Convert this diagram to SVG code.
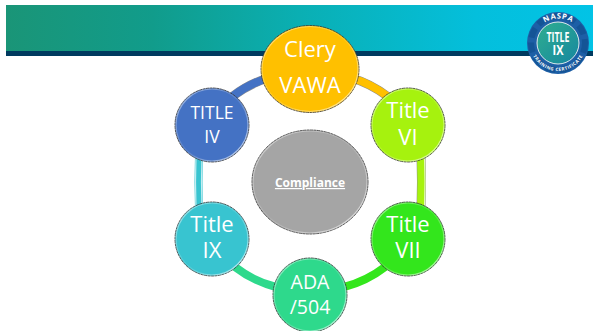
<svg xmlns="http://www.w3.org/2000/svg" xmlns:xlink="http://www.w3.org/1999/xlink" width="593" height="331" viewBox="0 0 593 331">
<defs>
<linearGradient id="hdr" x1="0" x2="1" y1="0" y2="0"><stop offset="0" stop-color="#1a9577"/><stop offset="0.25" stop-color="#119c8b"/><stop offset="0.5" stop-color="#0aafb3"/><stop offset="0.8" stop-color="#04bfdc"/><stop offset="1" stop-color="#02c3e6"/></linearGradient>
<linearGradient id="core" x1="0" x2="1" y1="0" y2="1"><stop offset="0" stop-color="#2fae8f"/><stop offset="1" stop-color="#1687a0"/></linearGradient>
<linearGradient id="bev" x1="0" x2="1" y1="0" y2="1"><stop offset="0" stop-color="#fff" stop-opacity=".55"/><stop offset=".5" stop-color="#fff" stop-opacity=".1"/><stop offset="1" stop-color="#fff" stop-opacity=".75"/></linearGradient>
<path id="logoTop" d="M534 43A24.500 24.500 0 0 1 583 43"/>
<path id="logoBot" d="M530 43A28 28 0 0 0 586 43"/>
</defs>
<style>
.edge{stroke:#333;stroke-width:.8;stroke-dasharray:3 .5}
.bevel{fill:none;stroke:url(#bev);stroke-width:1.200}
.t{font-family:"Open Sans","Noto Sans",sans-serif;fill:#fff;text-anchor:middle}
.big{font-size:22px}
.arc{fill:none;stroke-width:8}
.under{fill:none;stroke:#8f8f8f;stroke-width:9}
.sheen{fill:none;stroke:#fff;stroke-opacity:.7;stroke-width:1.200}
</style>
<rect x="6" y="5" width="587" height="46" fill="url(#hdr)"/>
<rect x="6" y="51" width="587" height="5" fill="#003a5f"/>
<g id="connectors">
<path class="under" d="M233 96A113 113 0 0 1 268 78"/><path class="arc" stroke="#4472c4" d="M233 96A113 113 0 0 1 268 78"/>
<path class="under" d="M352 78A113 113 0 0 1 387 96"/><path class="arc" stroke="#ffc000" d="M352 78A113 113 0 0 1 387 96"/>
<path class="under" d="M421 155Q422 182 421 209"/><path class="arc" stroke="#a6f20e" stroke-width="10" d="M421 155Q422 182 421 209"/><path class="sheen" d="M424.500 155Q425.500 182 424.500 209"/>
<path class="arc" stroke="#33e61c" d="M385 267A113 113 0 0 1 344 287"/>
<path class="arc" stroke="#2ed98c" d="M276 287A113 113 0 0 1 235 267"/>
<path class="arc" stroke="#38c4d0" stroke-width="10" d="M199 209Q198 182 199 155"/><path class="sheen" d="M196 209Q195 182 196 155"/><path class="sheen" d="M202 209Q201 182 202 155"/>
</g>
<g id="node-compliance">
<ellipse cx="310" cy="182" rx="58" ry="52" fill="#a5a5a5" class="edge"/>
<ellipse cx="310" cy="182" rx="57" ry="51" class="bevel"/>
<text x="310" y="187" class="t" font-size="12" font-weight="700" text-decoration="underline">Compliance</text>
</g>
<g id="node-clery">
<ellipse cx="310" cy="69" rx="49" ry="43.500" fill="#ffc000" class="edge"/>
<ellipse cx="310" cy="69" rx="48" ry="42.500" class="bevel"/>
<text x="310" y="57" class="t big">Clery</text>
<text x="310" y="93" class="t big">VAWA</text>
</g>
<g id="node-title-vi">
<circle cx="408" cy="125" r="37" fill="#a6f20e" class="edge"/>
<circle cx="408" cy="125" r="36" class="bevel"/>
<text x="408" y="118" class="t big">Title</text>
<text x="408" y="145" class="t big">VI</text>
</g>
<g id="node-title-vii">
<circle cx="408" cy="239" r="37" fill="#33e61c" class="edge"/>
<circle cx="408" cy="239" r="36" class="bevel"/>
<text x="408" y="232" class="t big">Title</text>
<text x="408" y="258" class="t big">VII</text>
</g>
<g id="node-ada">
<circle cx="310" cy="295" r="37" fill="#2ed98c" class="edge"/>
<circle cx="310" cy="295" r="36" class="bevel"/>
<text x="310" y="289" class="t" font-size="19.500">ADA</text>
<text x="310" y="314" class="t" font-size="19.500">/504</text>
</g>
<g id="node-title-ix">
<circle cx="212" cy="239" r="37" fill="#38c4d0" class="edge"/>
<circle cx="212" cy="239" r="36" class="bevel"/>
<text x="212" y="232" class="t big">Title</text>
<text x="212" y="258" class="t big">IX</text>
</g>
<g id="node-title-iv">
<circle cx="212" cy="125" r="37" fill="#4472c4" class="edge"/>
<circle cx="212" cy="125" r="36" class="bevel"/>
<text x="212" y="119" class="t" font-size="17.500">TITLE</text>
<text x="212" y="143" class="t" font-size="17.500">IV</text>
</g>
<g id="logo">
<circle cx="558" cy="43" r="31" fill="#1d5fa6"/>
<circle cx="558" cy="43" r="27" fill="none" stroke="#0f4c8c" stroke-width="6" stroke-dasharray="10 5" stroke-opacity=".6"/>
<circle cx="558" cy="43" r="21" fill="url(#core)" stroke="#dfe9ee" stroke-width="1"/>
<text class="t" font-size="7.500" font-weight="700" letter-spacing=".8"><textPath xlink:href="#logoTop" startOffset="50%">NASPA</textPath></text>
<text class="t" font-size="4.500" font-weight="700" letter-spacing=".5"><textPath xlink:href="#logoBot" startOffset="50%">TRAINING CERTIFICATE</textPath></text>
<text x="558" y="42" class="t" font-size="14" font-weight="700" textLength="23" lengthAdjust="spacingAndGlyphs">TITLE</text>
<text x="558" y="55" class="t" font-size="14" font-weight="700" textLength="11" lengthAdjust="spacingAndGlyphs">IX</text>
</g>
</svg>
